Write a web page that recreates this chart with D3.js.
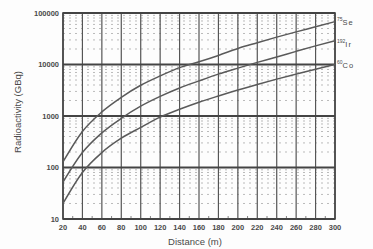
<!DOCTYPE html>
<html>
<head>
<meta charset="utf-8">
<script src="https://cdn.jsdelivr.net/npm/d3@7"></script>
<style>
  body { margin: 0; background: #fdfdfd; }
  svg text { font-family: "Liberation Sans", Arial, sans-serif; fill: #4a4a4a; }
</style>
</head>
<body>
<svg id="chart"></svg>
<script>
(function() {

// values
const distance = [20, 40, 60, 80, 100, 120, 140, 160, 180, 200, 220, 240, 260, 280, 300];
const se75 = [128, 500, 1200, 2300, 3950, 6000, 8700, 11300, 15000, 20500, 26500, 34000, 43000, 54000, 68000];
const ir192 = [52, 195, 470, 900, 1550, 2400, 3500, 4800, 6500, 8500, 11000, 14000, 18000, 23000, 29000];
const co60 = [20, 80, 195, 370, 600, 950, 1350, 1850, 2450, 3200, 4100, 5200, 6500, 8100, 10000];

const xTicks = [20, 40, 60, 80, 100, 120, 140, 160, 180, 200, 220, 240, 260, 280, 300];
const yTicks = [10, 100, 1000, 10000, 100000];

const series = [
  { mass: "75", sym: "Se", values: se75, dy: 0 },
  { mass: "192", sym: "Ir", values: ir192, dy: 3 },
  { mass: "60", sym: "Co", values: co60, dy: 0 }
];

const W = 373, H = 249;
const margin = { top: 13, right: 38, bottom: 30, left: 63 };
const width = W - margin.left - margin.right;
const height = H - margin.top - margin.bottom;

const svg = d3.select("#chart")
    .attr("width", W)
    .attr("height", H);

const g = svg.append("g")
    .attr("transform", `translate(${margin.left},${margin.top})`);

const x = d3.scaleLinear().domain([20, 300]).range([0, width]);
const y = d3.scaleLog().domain([10, 100000]).range([height, 0]);

// minor horizontal grid (dashed)
const minor = [];
[10, 100, 1000, 10000].forEach(b => { for (let k = 2; k <= 9; k++) minor.push(b * k); });

g.selectAll(".minor")
    .data(minor)
    .enter().append("line")
    .attr("x1", 0).attr("x2", width)
    .attr("y1", d => y(d)).attr("y2", d => y(d))
    .attr("stroke", "#a8a8a8")
    .attr("stroke-width", 0.8)
    .attr("stroke-dasharray", "2,4");

// vertical grid
g.selectAll(".vgrid")
    .data(xTicks)
    .enter().append("line")
    .attr("x1", d => x(d)).attr("x2", d => x(d))
    .attr("y1", 0).attr("y2", height)
    .attr("stroke", "#555")
    .attr("stroke-width", 1.2);

// small ticks at the half steps, bottom edge
g.selectAll(".htick")
    .data(d3.range(30, 300, 20))
    .enter().append("line")
    .attr("x1", d => x(d)).attr("x2", d => x(d))
    .attr("y1", height - 3).attr("y2", height)
    .attr("stroke", "#666")
    .attr("stroke-width", 0.8);

// decade lines
g.selectAll(".hgrid")
    .data(yTicks)
    .enter().append("line")
    .attr("x1", 0).attr("x2", width)
    .attr("y1", d => y(d)).attr("y2", d => y(d))
    .attr("stroke", "#444")
    .attr("stroke-width", 1.8);

// frame
g.append("rect")
    .attr("width", width).attr("height", height)
    .attr("fill", "none")
    .attr("stroke", "#444")
    .attr("stroke-width", 1.6);

// curves
const line = d3.line()
    .x((d, i) => x(distance[i]))
    .y(d => y(d))
    .curve(d3.curveMonotoneX);

g.selectAll(".curve")
    .data(series)
    .enter().append("path")
    .attr("d", d => line(d.values))
    .attr("fill", "none")
    .attr("stroke", "#5a5a5a")
    .attr("stroke-width", 1.5);

// nuclide labels
const lab = g.selectAll(".lab")
    .data(series)
    .enter().append("text")
    .attr("x", width + 2)
    .attr("y", d => y(d.values[d.values.length - 1]) + 2 + d.dy);
lab.append("tspan")
    .attr("font-size", "5px")
    .attr("dy", -3)
    .text(d => d.mass);
lab.append("tspan")
    .attr("font-size", "7.5px")
    .attr("dy", 4)
    .attr("letter-spacing", "1px")
    .text(d => d.sym);

// axes labels
g.selectAll(".ylab")
    .data(yTicks)
    .enter().append("text")
    .attr("x", -4)
    .attr("y", d => y(d))
    .attr("dy", "0.35em")
    .attr("text-anchor", "end")
    .attr("font-size", "7.5px")
    .attr("font-weight", "bold")
    .text(d => d);

g.selectAll(".xlab")
    .data(xTicks)
    .enter().append("text")
    .attr("x", d => x(d))
    .attr("y", height + 11)
    .attr("text-anchor", "middle")
    .attr("font-size", "7.5px")
    .attr("font-weight", "bold")
    .text(d => d);

g.append("text")
    .attr("x", width / 2 - 4)
    .attr("y", height + 26)
    .attr("text-anchor", "middle")
    .attr("font-size", "9.5px")
    .text("Distance (m)");

g.append("text")
    .attr("transform", `translate(${-42},${height / 2 - 4}) rotate(-90)`)
    .attr("text-anchor", "middle")
    .attr("font-size", "9.5px")
    .text("Radioactivity (GBq)");

})();
</script>
</body>
</html>
